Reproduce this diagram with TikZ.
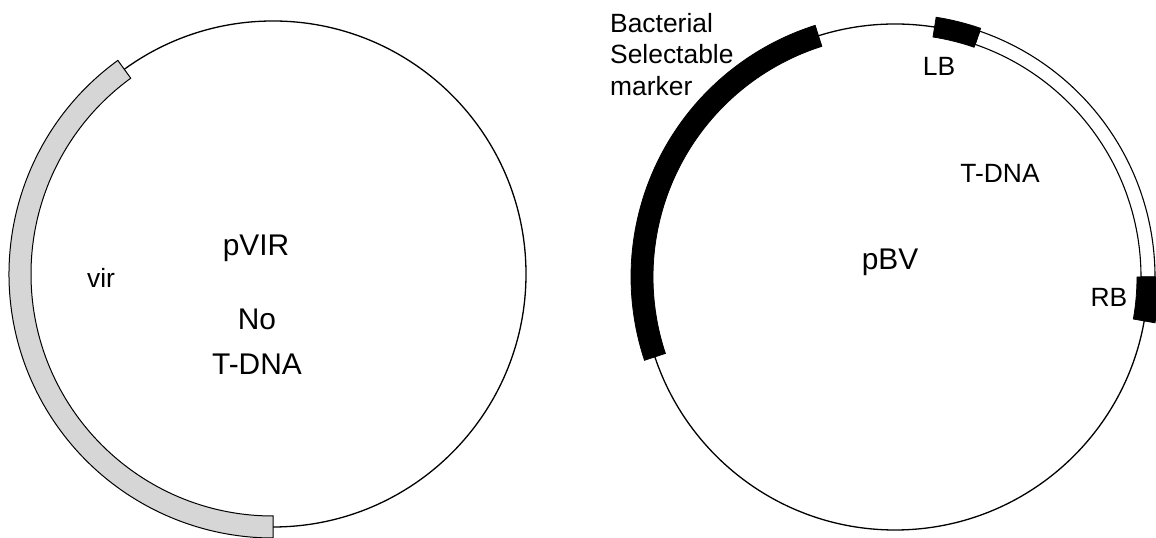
\documentclass[tikz,border=0pt]{standalone}
\usepackage{fontspec}
\setmainfont{Liberation Sans}
\tikzset{
  backbone/.style={line width=1.3bp},
  virband/.style={fill=gray!32, draw=black, line width=1bp},
  markerband/.style={fill=black, draw=black, line width=0.8bp},
  tdnaband/.style={fill=white, draw=black, line width=1.1bp},
  biglabel/.style={inner sep=0pt, font=\fontsize{30}{45}\selectfont},
  smalllabel/.style={inner sep=0pt, font=\fontsize{26.5}{31.5}\selectfont},
}
\begin{document}
\begin{tikzpicture}[x=1bp, y=1bp]
\useasboundingbox (0,0) rectangle (1156,538);
% pVIR
\begin{scope}[shift={(273,264)}]
\draw[backbone] (0,0) circle[radius=253];
\draw[virband] (126:264) arc[start angle=126, end angle=270, radius=264]
  -- (270:242) arc[start angle=270, end angle=126, radius=242] -- cycle;
\end{scope}
\node[smalllabel, anchor=base] (virlbl) at (101,250) {vir};
\node[biglabel, anchor=base] (pvir) at (256,282) {pVIR};
\node[biglabel, anchor=north, align=center] (notdna) at (257,229) {No\\T-DNA};
% pBV
\begin{scope}[shift={(895,261)}]
\draw[backbone] (0,0) circle[radius=253];
\draw[markerband] (107.6:264) arc[start angle=107.6, end angle=198.4, radius=264]
  -- (198.4:242) arc[start angle=198.4, end angle=107.6, radius=242] -- cycle;
\draw[tdnaband] (0:260) arc[start angle=0, end angle=71, radius=260]
  -- (71:246) arc[start angle=71, end angle=0, radius=246] -- cycle;
\draw[markerband] (71:263) arc[start angle=71, end angle=81, radius=263]
  -- (81:243) arc[start angle=81, end angle=71, radius=243] -- cycle;
\draw[markerband] (-10:264) arc[start angle=-10, end angle=0, radius=264]
  -- (0:242) arc[start angle=0, end angle=-10, radius=242] -- cycle;
\end{scope}
\node[smalllabel, anchor=north west, align=left] (marker) at (610,525) {Bacterial\\Selectable\\marker};
\node[smalllabel, anchor=base] (lb) at (939,462) {LB};
\node[smalllabel, anchor=base] (tdna) at (1000,355) {T-DNA};
\node[biglabel, anchor=base] (pbv) at (890,268) {pBV};
\node[smalllabel, anchor=base] (rb) at (1109,231) {RB};
\end{tikzpicture}
\end{document}
